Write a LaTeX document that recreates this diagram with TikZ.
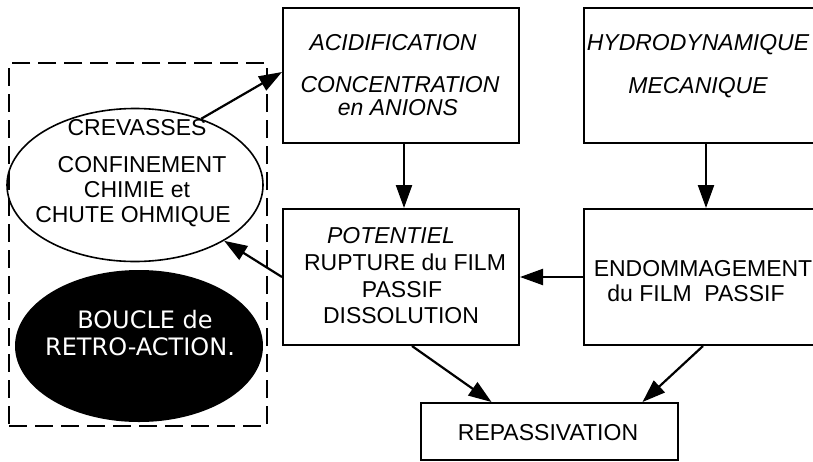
\documentclass[tikz,border=0pt]{standalone}
\usepackage{fontspec}
\setmainfont{Liberation Sans}
\newfontfamily\loopfont{DejaVu Sans}
\usetikzlibrary{arrows.meta,shapes.geometric}

\begin{document}
\begin{tikzpicture}[x=1pt,y=-1pt,
  box/.style={draw, line width=2pt, rectangle, inner sep=0pt},
  ln/.style={anchor=base, inner sep=0pt, font=\fontsize{23}{23}\selectfont},
  itl/.style={anchor=base, inner sep=0pt, font=\fontsize{23}{23}\selectfont\itshape},
  wln/.style={anchor=base, inner sep=0pt, text=white, font=\loopfont\fontsize{24}{24}\selectfont},
  conn/.style={line width=2.2pt, -{Triangle[length=23pt,width=16pt]}},
]
\useasboundingbox (0,0) rectangle (813,461);

% feedback loop frame
\node[draw, line width=2pt, dash pattern=on 18pt off 8pt, rectangle, inner sep=0pt,
      minimum width=258pt, minimum height=363pt] (loop) at (138,244.5) {};

% crevice ellipse and feedback label
\node[ellipse, draw, line width=1.6pt, inner sep=0pt,
      minimum width=256pt, minimum height=153pt] (crev) at (135,185) {};
\node[ln] (crev1) at (137,135) {CREVASSES};
\node[ln] (crev2) at (142,172) {CONFINEMENT};
\node[ln] (crev3) at (137,197) {CHIMIE et};
\node[ln] (crev4) at (133,222) {CHUTE OHMIQUE};

\node[ellipse, fill=black, inner sep=0pt,
      minimum width=248pt, minimum height=152pt] (boucle) at (139,346) {};
\node[wln] (boucle1) at (145,328) {BOUCLE de};
\node[wln] (boucle2) at (140,355) {RETRO-ACTION.};

% process boxes
\node[box, minimum width=236pt, minimum height=135pt] (acid) at (401,75.5) {};
\node[itl] (acid1) at (393,50) {ACIDIFICATION};
\node[itl] (acid2) at (400,92) {CONCENTRATION};
\node[itl] (acid3) at (398,115) {en ANIONS};

\node[box, minimum width=232pt, minimum height=135pt] (hydro) at (700,75.5) {};
\node[itl] (hydro1) at (698,50) {HYDRODYNAMIQUE};
\node[itl] (hydro2) at (698,93) {MECANIQUE};

\node[box, minimum width=236pt, minimum height=136pt] (pot) at (401,277) {};
\node[itl] (pot1) at (391,243) {POTENTIEL};
\node[ln] (pot2) at (405,270) {RUPTURE du FILM};
\node[ln] (pot3) at (402,297) {PASSIF};
\node[ln] (pot4) at (401,323) {DISSOLUTION};

\node[box, minimum width=232pt, minimum height=136pt] (endo) at (700,277) {};
\node[ln] (endo1) at (703,276) {ENDOMMAGEMENT};
\node[ln] (endo2) at (696,301) {du FILM\hspace{0.55em}PASSIF};

\node[box, minimum width=257pt, minimum height=57pt] (rep) at (549.5,431.5) {};
\node[ln] (rep1) at (548,440) {REPASSIVATION};

% connectors
\draw[conn] (crev.45) -- ([yshift=3.5pt]acid.west);
\draw[conn] (pot.west) -- (crev);
\draw[conn] ([xshift=3pt]acid.south) -- ([xshift=3pt]pot.north);
\draw[conn] ([xshift=6pt]hydro.south) -- ([xshift=6pt]endo.north);
\draw[conn] (endo.west) -- (pot.east);
\draw[conn] ([xshift=11pt]pot.south) -- ([xshift=-58pt]rep.north);
\draw[conn] ([xshift=3pt]endo.south) -- ([xshift=93pt]rep.north);
\end{tikzpicture}
\end{document}
